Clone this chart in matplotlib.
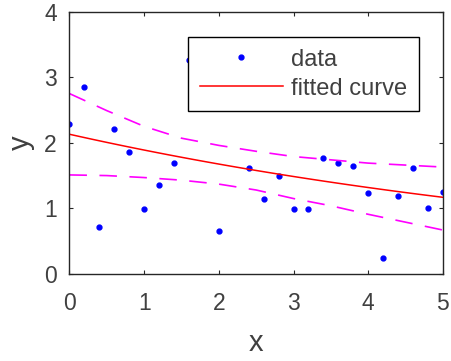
import numpy as np
import matplotlib.pyplot as plt

plt.rcParams['font.family'] = ['Liberation Sans', 'DejaVu Sans']

# data points (x = 1.8 and 2.2 sit behind the legend)
x_data = [0.0, 0.2, 0.4, 0.6, 0.8, 1.0, 1.2, 1.4, 1.6, 1.8, 2.0, 2.2, 2.4,
          2.6, 2.8, 3.0, 3.2, 3.4, 3.6, 3.8, 4.0, 4.2, 4.4, 4.6, 4.8, 5.0]
y_data = [2.28, 2.85, 0.71, 2.21, 1.86, 0.99, 1.36, 1.69, 3.26, 3.05, 0.66, 2.70, 1.61,
          1.15, 1.50, 0.99, 0.99, 1.77, 1.69, 1.65, 1.24, 0.25, 1.19, 1.61, 1.01, 1.25]

# fitted model y = a*exp(b*x)
fit_a = 2.13
fit_b = -0.12

# confidence bounds
x_bound = [0.0, 0.5, 1.0, 1.5, 2.0, 2.5, 3.0, 3.5, 4.0, 4.5, 5.0]
y_upper = [2.75, 2.49, 2.25, 2.07, 1.96, 1.87, 1.79, 1.74, 1.69, 1.66, 1.63]
y_lower = [1.51, 1.50, 1.47, 1.43, 1.37, 1.28, 1.15, 1.04, 0.91, 0.79, 0.67]

fig = plt.figure(figsize=(4.51, 3.61), dpi=100)
ax = fig.add_axes([0.154, 0.241, 0.828, 0.727])

ax.plot(x_data, y_data, '.', color='blue', markersize=7, label='data')
xf = np.linspace(0, 5, 101)
ax.plot(xf, fit_a * np.exp(fit_b * xf), '-', color='red', lw=1.1, label='fitted curve')
ax.plot(x_bound, y_upper, '--', color='magenta', lw=1.2, dashes=(10.5, 7.5))
ax.plot(x_bound, y_lower, '--', color='magenta', lw=1.2, dashes=(10.5, 7.5))

ax.set_xlim(0, 5)
ax.set_ylim(0, 4)
ax.set_xticks([0, 1, 2, 3, 4, 5])
ax.set_yticks([0, 1, 2, 3, 4])
ax.tick_params(direction='in', top=True, right=True, length=3, width=0.8,
               colors='#262626', labelsize=16.5, labelcolor='#404040')
ax.tick_params(axis='x', pad=13)
ax.tick_params(axis='y', pad=9)
for s in ax.spines.values():
    s.set_color('#262626')
    s.set_linewidth(1.0)
ax.set_xlabel('x', fontsize=21, color='#404040', labelpad=10)
ax.set_ylabel('y', fontsize=21, color='#404040', labelpad=7)

leg = ax.legend(loc='upper left', bbox_to_anchor=(0.317, 0.904), borderaxespad=0,
                fontsize=17, frameon=True, fancybox=False, framealpha=1,
                handlelength=3.54, handletextpad=0.33, borderpad=0.5, labelspacing=0.3)
leg.get_frame().set_edgecolor('black')
leg.get_frame().set_linewidth(1.0)
for t in leg.get_texts():
    t.set_color('#404040')

fig.savefig('out.png', dpi=100)
